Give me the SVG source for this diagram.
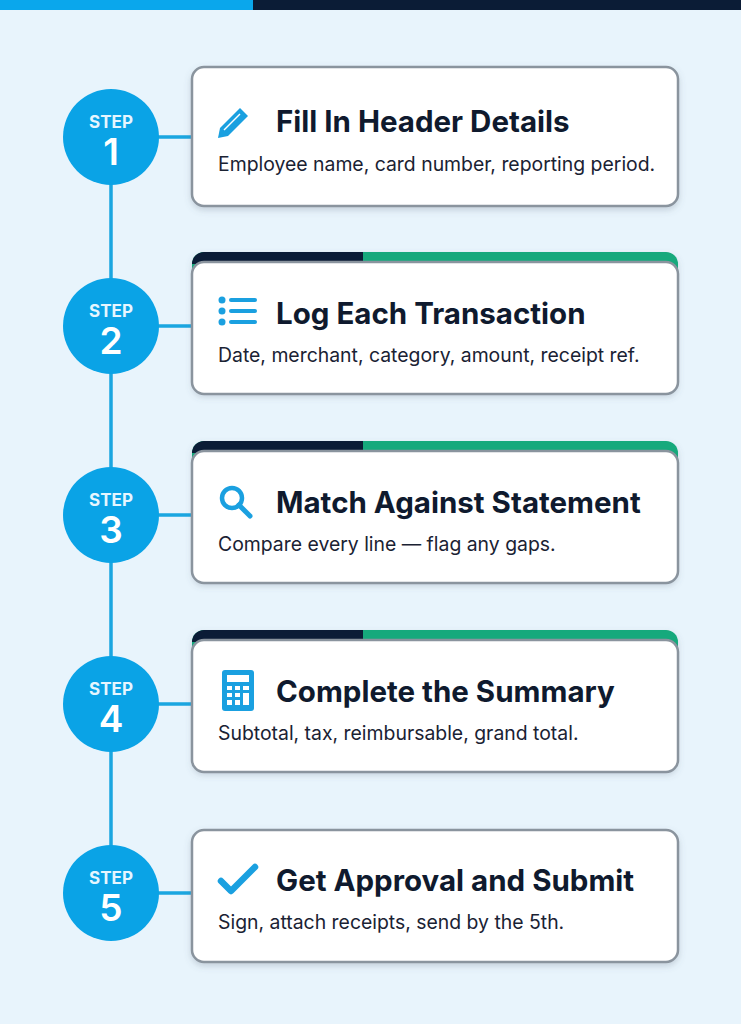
<svg xmlns="http://www.w3.org/2000/svg" width="741" height="1024" viewBox="0 0 741 1024">
<style>
.card{fill:#fff;stroke:#8a949e;stroke-width:2.5}
.t{font-family:Inter,"Noto Sans",sans-serif;font-weight:700;font-size:29.5px;fill:#0f1a2e}
.s{font-family:Inter,"Noto Sans",sans-serif;font-size:19.4px;fill:#1a2233}
.c{fill:#0aa3e6}
.st{font-family:Inter,"Noto Sans",sans-serif;font-weight:700;font-size:17px;fill:#e6f6ff;text-anchor:middle}
.n{font-family:Inter,"Noto Sans",sans-serif;font-weight:600;font-size:37px;fill:#fff;text-anchor:middle}
.ln{stroke:#1aa6e0;stroke-width:3.5;fill:none}
.ic{fill:#1aa0e0}
</style>
<defs>
<filter id="sh" x="-5%" y="-5%" width="110%" height="120%"><feDropShadow dx="0" dy="3" stdDeviation="3" flood-color="#5a6a7a" flood-opacity="0.25"/></filter>
</defs>
<rect width="741" height="1024" fill="#e8f4fc"/>
<rect x="0" y="0" width="253" height="10" fill="#0aa7ec"/>
<rect x="253" y="0" width="488" height="10" fill="#0b1c36"/>
<g id="connectors">
<line class="ln" x1="111" y1="150" x2="111" y2="880"/>
<line class="ln" x1="150" y1="137" x2="192" y2="137"/>
<line class="ln" x1="150" y1="326" x2="192" y2="326"/>
<line class="ln" x1="150" y1="515" x2="192" y2="515"/>
<line class="ln" x1="150" y1="704" x2="192" y2="704"/>
<line class="ln" x1="150" y1="893" x2="192" y2="893"/>
</g>
<g id="step1">
<rect class="card" x="192" y="67" width="486" height="139" rx="12" filter="url(#sh)"/>
<g transform="translate(218,108)"><path class="ic" d="M22 0l8 8-20 20H2v-8z"/><path d="M6 22l16-16" stroke="#fff" stroke-width="1.5"/><path class="ic" d="M0 30l2-10 8 8z"/></g>
<text class="t" x="276" y="132">Fill In Header Details</text>
<text class="s" x="218" y="171">Employee name, card number, reporting period.</text>
<circle class="c" cx="111" cy="137" r="48"/>
<text class="st" x="111" y="128">STEP</text>
<text class="n" x="111" y="165">1</text>
</g>
<g id="step2">
<rect x="192" y="252" width="486" height="142" rx="12" fill="#17a97b" filter="url(#sh)"/>
<path d="M204 252h159v12H192v0a12 12 0 0 1 12-12z" fill="#0b1c36"/>
<rect class="card" x="192" y="262" width="486" height="132" rx="12"/>
<g class="ic"><circle cx="222" cy="300" r="3.5"/><circle cx="222" cy="311" r="3.5"/><circle cx="222" cy="322" r="3.5"/><rect x="229" y="298" width="28" height="4" rx="2"/><rect x="229" y="309" width="28" height="4" rx="2"/><rect x="229" y="320" width="28" height="4" rx="2"/></g>
<text class="t" x="276" y="324">Log Each Transaction</text>
<text class="s" x="218" y="362">Date, merchant, category, amount, receipt ref.</text>
<circle class="c" cx="111" cy="326" r="48"/>
<text class="st" x="111" y="317">STEP</text>
<text class="n" x="111" y="354">2</text>
</g>
<g id="step3">
<rect x="192" y="441" width="486" height="142" rx="12" fill="#17a97b" filter="url(#sh)"/>
<path d="M204 441h159v12H192v0a12 12 0 0 1 12-12z" fill="#0b1c36"/>
<rect class="card" x="192" y="451" width="486" height="132" rx="12"/>
<circle cx="232" cy="498" r="10" fill="none" stroke="#1aa0e0" stroke-width="4.5"/><line x1="239" y1="505" x2="250" y2="516" stroke="#1aa0e0" stroke-width="5" stroke-linecap="round"/>
<text class="t" x="276" y="513">Match Against Statement</text>
<text class="s" x="218" y="551">Compare every line — flag any gaps.</text>
<circle class="c" cx="111" cy="515" r="48"/>
<text class="st" x="111" y="506">STEP</text>
<text class="n" x="111" y="543">3</text>
</g>
<g id="step4">
<rect x="192" y="630" width="486" height="142" rx="12" fill="#17a97b" filter="url(#sh)"/>
<path d="M204 630h159v12H192v0a12 12 0 0 1 12-12z" fill="#0b1c36"/>
<rect class="card" x="192" y="640" width="486" height="132" rx="12"/>
<rect x="222" y="670" width="32" height="41" rx="3" class="ic"/>
<rect x="227" y="675" width="22" height="7" fill="#fff"/>
<g fill="#fff"><rect x="227" y="686" width="5" height="4"/><rect x="235" y="686" width="5" height="4"/><rect x="243" y="686" width="6" height="4"/><rect x="227" y="693" width="5" height="4"/><rect x="235" y="693" width="5" height="4"/><rect x="227" y="700" width="5" height="5"/><rect x="235" y="700" width="5" height="5"/><rect x="243" y="693" width="6" height="12"/></g>
<text class="t" x="276" y="702">Complete the Summary</text>
<text class="s" x="218" y="740">Subtotal, tax, reimbursable, grand total.</text>
<circle class="c" cx="111" cy="704" r="48"/>
<text class="st" x="111" y="695">STEP</text>
<text class="n" x="111" y="732">4</text>
</g>
<g id="step5">
<rect class="card" x="192" y="830" width="486" height="132" rx="12" filter="url(#sh)"/>
<path d="M221 881l10 10 24-24" fill="none" stroke="#1aa0e0" stroke-width="6.5" stroke-linecap="round" stroke-linejoin="round"/>
<text class="t" x="276" y="891">Get Approval and Submit</text>
<text class="s" x="218" y="929">Sign, attach receipts, send by the 5th.</text>
<circle class="c" cx="111" cy="893" r="48"/>
<text class="st" x="111" y="884">STEP</text>
<text class="n" x="111" y="921">5</text>
</g>
</svg>
